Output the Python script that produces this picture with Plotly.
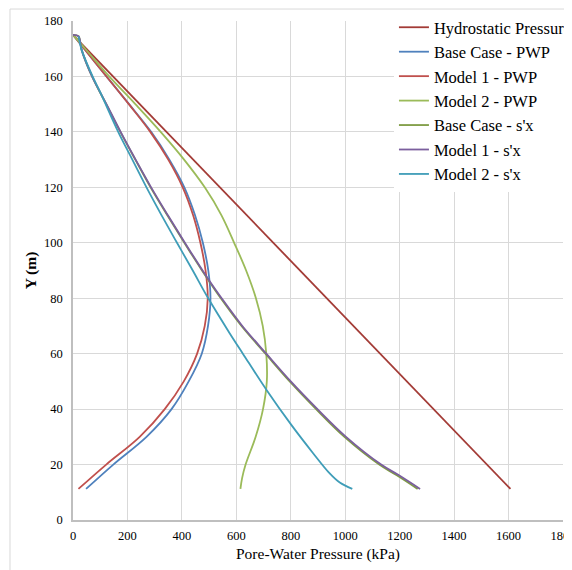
import plotly.graph_objects as go

# ---- data ----
hydro_x = [0, 1607]
hydro_y = [175, 11.2]

base_pwp_y = [175, 170, 160, 150, 140, 130, 120, 110, 100, 90, 80, 70, 60, 50, 40, 30, 20, 11.2]
base_pwp_x = [0, 41, 123, 206, 287, 354, 409, 448, 477, 497, 505, 496, 473, 425, 362, 270, 148, 48]

m1_pwp_y = [175, 170, 160, 150, 140, 130, 120, 110, 100, 90, 80, 70, 60, 50, 40, 30, 20, 11.2]
m1_pwp_x = [0, 41, 123, 205, 284, 350, 403, 441, 468, 487, 495, 484, 456, 407, 337, 245, 122, 20]

m2_pwp_y = [175, 170, 160, 150, 140, 130, 120, 110, 100, 90, 80, 70, 60, 50, 40, 30, 20, 15, 11.2]
m2_pwp_x = [0, 45, 133, 229, 322, 408, 484, 545, 592, 636, 672, 697, 710, 712, 698, 671, 634, 621, 615]

base_sx_y = [175, 174.5, 169.5, 160, 150, 140, 130, 120, 110, 100, 90, 86.6, 80, 70, 60, 50, 40, 30, 20, 16.2, 11.2]
base_sx_x = [0, 20, 32, 70, 122, 174, 229, 285, 346, 409, 474, 497, 543, 619, 707, 796, 893, 997, 1125, 1188, 1266]

m1_sx_y = [175, 174.5, 169.5, 160, 150, 140, 130, 120, 110, 100, 90, 86.6, 80, 70, 60, 50, 40, 30, 20, 16.2, 11.2]
m1_sx_x = [0, 20, 32, 70, 123, 175, 230, 287, 348, 411, 476, 499, 546, 622, 710, 800, 898, 1003, 1132, 1196, 1275]

m2_sx_y = [174.5, 169.5, 160, 154.5, 140, 130, 120, 110, 100, 90, 80.6, 67.3, 60, 46.9, 34.3, 24.1, 16.8, 13.5, 11.2]
m2_sx_x = [20, 32, 72, 99, 166, 218, 270, 325, 382, 440, 493, 576, 624, 711, 802, 882, 943, 980, 1026]

names = ["Hydrostatic Pressure", "Base Case - PWP", "Model 1 - PWP", "Model 2 - PWP",
         "Base Case - s'x", "Model 1 - s'x", "Model 2 - s'x"]
colors = ["#A33B36", "#4F81BD", "#C0504D", "#9BBB59", "#7E9C43", "#7B5F9E", "#3F9DB8"]

x_ticks = [0, 200, 400, 600, 800, 1000, 1200, 1400, 1600, 1800]
y_ticks = [0, 20, 40, 60, 80, 100, 120, 140, 160, 180]

series = [
    (hydro_x, hydro_y),
    (base_pwp_x, base_pwp_y),
    (m1_pwp_x, m1_pwp_y),
    (m2_pwp_x, m2_pwp_y),
    (base_sx_x, base_sx_y),
    (m1_sx_x, m1_sx_y),
    (m2_sx_x, m2_sx_y),
]

FONT = "'Liberation Serif', 'Times New Roman', serif"

fig = go.Figure()
for (xs, ys), name, col in zip(series, names, colors):
    fig.add_trace(go.Scatter(
        x=xs, y=ys, mode="lines", name=name,
        line=dict(color=col, width=1.8,
                  shape="spline" if len(xs) > 2 else "linear", smoothing=1.0),
    ))

# page body has an 8px margin: figure sized to fit the 572x570 window
fig.update_layout(
    width=564, height=562,
    margin=dict(l=65, r=9, t=13, b=50, autoexpand=False),
    paper_bgcolor="white", plot_bgcolor="white",
    font=dict(family=FONT, color="#000000"),
    showlegend=True,
    legend=dict(
        x=0.655, y=1.022, xanchor="left", yanchor="top",
        bgcolor="white", borderwidth=0,
        font=dict(family=FONT, size=16.5, color="#000000"),
        tracegroupgap=0, itemwidth=30,
    ),
    xaxis=dict(
        range=[0, 1800], tickvals=x_ticks, ticktext=[str(v) for v in x_ticks],
        showgrid=True, gridcolor="#D9D9D9", gridwidth=1,
        showline=True, linecolor="#BFBFBF", linewidth=1.5,
        zeroline=False, ticks="", ticklabelstandoff=3, ticklabeloverflow="allow",
        tickfont=dict(family=FONT, size=12.5, color="#000000"),
        title=dict(text="Pore-Water Pressure (kPa)", standoff=6,
                   font=dict(family=FONT, size=15.5, color="#000000")),
    ),
    yaxis=dict(
        range=[0, 180], tickvals=y_ticks, ticktext=[str(v) for v in y_ticks],
        showgrid=True, gridcolor="#D9D9D9", gridwidth=1,
        showline=True, linecolor="#BFBFBF", linewidth=1.5,
        zeroline=False, ticks="", ticklabelstandoff=6, ticklabeloverflow="allow",
        tickfont=dict(family=FONT, size=12.5, color="#000000"),
        title=dict(text="<b>Y (m)</b>", standoff=4,
                   font=dict(family=FONT, size=15.5, color="#000000")),
    ),
    shapes=[
        dict(type="line", xref="paper", yref="paper", x0=-0.1286, x1=-0.1286, y0=-0.2, y1=1.024,
             line=dict(color="#D9D9D9", width=1)),
        dict(type="line", xref="paper", yref="paper", x0=-0.1286, x1=1.05, y0=1.024, y1=1.024,
             line=dict(color="#D9D9D9", width=1)),
    ],
)

fig.write_html("out.html")
